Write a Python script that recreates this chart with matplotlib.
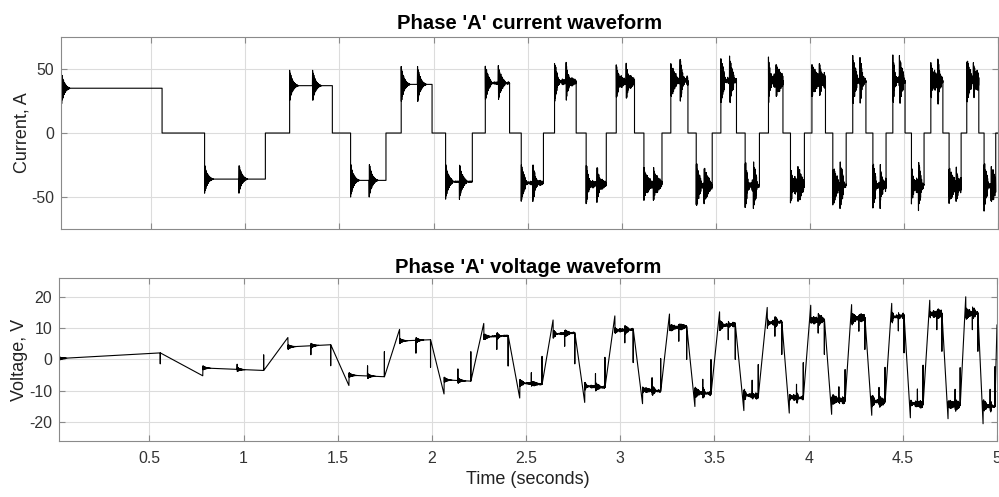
import matplotlib
matplotlib.use('Agg')
import matplotlib.pyplot as plt
import numpy as np

plt.rcParams['font.family'] = ['Liberation Sans', 'DejaVu Sans']
plt.rcParams['axes.unicode_minus'] = False

# phase A conduction intervals (s)
t_on = [0.020, 0.783, 1.235, 1.559, 1.828, 2.064, 2.275, 2.466, 2.643, 2.811,
        2.971, 3.118, 3.261, 3.396, 3.527, 3.656, 3.780, 3.897, 4.011, 4.122,
        4.228, 4.335, 4.441, 4.540, 4.643, 4.740, 4.834, 4.926]
t_mid = [np.nan, 0.966, 1.357, 1.658, 1.915, 2.138, 2.344, 2.528, 2.705, 2.868,
         3.024, 3.169, 3.311, 3.438, 3.573, 3.700, 3.821, 3.936, 4.051, 4.161,
         4.267, 4.374, 4.476, 4.577, 4.680, 4.777, 4.869, 4.963]
t_off = [0.557, 1.106, 1.462, 1.747, 1.992, 2.206, 2.404, 2.584, 2.758, 2.918,
         3.068, 3.214, 3.352, 3.481, 3.610, 3.732, 3.857, 3.971, 4.083, 4.193,
         4.298, 4.405, 4.506, 4.607, 4.707, 4.804, 4.898, 4.988]

# current plateau (A), ringing peak (A), plateau hash (A)
i_level = [35, -36, 37, -37, 38, -38, 39, -39, 40, -40, 40, -40, 41, -41,
           41, -41, 41, -41, 41, -41, 41, -41, 41, -41, 41, -41, 41, -41]
i_ring = [14, 11, 12, 13, 14, 14, 14, 14, 14, 15, 15, 15, 15, 16,
          16, 16, 16, 16, 16, 16, 16, 16, 16, 16, 16, 16, 16, 16]
i_fuzz = [0, 0, 0, 0, 0, 0.5, 1, 1.5, 2, 2, 2.5, 3, 3, 3.5,
          3.5, 4, 4, 4, 4, 4, 4, 4, 4, 4, 4, 4, 4, 4]

# voltage plateau start/end and spike tips (V)
v_start = [0.3, -2.7, 4.0, -5.0, 5.9, -6.5, 7.2, -7.5, 8.1, -8.5, 9.2, -9.7,
           10.1, -10.5, 10.8, -11.3, 11.6, -12.0, 12.4, -12.7, 13.0, -13.2,
           13.5, -14.0, 14.4, -14.3, 14.6, -14.7]
v_end = [2.1, -3.5, 4.7, -5.5, 6.3, -6.9, 7.6, -7.9, 8.5, -8.9, 9.6, -10.1,
         10.5, -10.9, 11.2, -11.7, 12.0, -12.3, 12.8, -13.1, 13.4, -13.6,
         13.9, -14.4, 14.7, -14.6, 14.9, -15.0]
v_on_tip = [2.0, -5.2, 7.0, -8.3, 9.6, -11.0, 11.5, -12.3, 12.6, -13.7, 13.9,
            -14.1, 14.5, -15.0, 15.2, -16.3, 16.6, -17.1, 17.3, -17.5, 17.5,
            -17.8, 17.9, -18.6, 18.9, -18.9, 20.0, -20.5]
v_mid_tip = [np.nan, -1.5, 1.5, -2.0, 2.0, -3.0, 3.2, -4.2, 4.2, -4.5, 5.3,
             -5.8, 5.8, -6.3, 6.3, -6.6, 7.4, -7.9, 8.4, -8.7, 9.0, -8.9,
             9.1, -9.4, 9.5, -9.5, 9.5, -9.5]
v_off_tip = [-1.4, 1.5, -2.0, 2.5, -2.5, 2.5, -2.1, 1.0, -1.4, 0.7, -1.0, 0.3,
             0.0, 0.0, 0.0, -1.6, 1.6, -1.0, 1.6, -3.2, 3.2, -2.5, 2.1, -1.8,
             2.6, -2.6, 2.6, -2.3]
v_ring = [0.6, 0.7, 0.8, 0.8, 0.9, 0.9, 1.0, 1.0, 1.1, 1.1, 1.2, 1.2, 1.2, 1.3,
          1.3, 1.3, 1.4, 1.4, 1.4, 1.4, 1.4, 1.4, 1.4, 1.4, 1.4, 1.4, 1.4, 1.4]
v_fuzz = [0, 0, 0, 0, 0, 0, 0.2, 0.3, 0.3, 0.4, 0.4, 0.5, 0.5, 0.6,
          0.6, 0.7, 0.7, 0.7, 0.8, 0.8, 0.8, 0.8, 0.8, 0.8, 0.8, 0.8, 0.8, 0.8]
t_final = 5.0
v_final = 11.0

# shape of one ringing burst and of the plateau hash
ring_shape = [1.00, -0.95, 0.82, -0.86, 0.72, -0.66, 0.68, -0.58, 0.52, -0.55,
              0.46, -0.42, 0.44, -0.37, 0.33, -0.35, 0.30, -0.27, 0.28, -0.23,
              0.21, -0.22, 0.18, -0.16, 0.17, -0.14, 0.12, -0.13, 0.10, -0.09,
              0.09, -0.08, 0.07, -0.06, 0.06, -0.05, 0.04, -0.04, 0.03, -0.03,
              0.02, -0.02, 0.01, 0.0]
fuzz_shape = [0.4, -0.7, 0.9, -0.2, 0.6, -1.0, 0.3, -0.5, 0.8, -0.4, 0.1, -0.9,
              0.7, -0.3, 0.5, -0.6, 1.0, -0.1, 0.2, -0.8, 0.6, -0.5, 0.3]
dt = 0.0011


def ring(j):
    return ring_shape[j] if 0 <= j < len(ring_shape) else 0.0


ti, ii, tv, vv = [], [], [], []
for k in range(len(t_on)):
    ts = np.arange(t_on[k], t_off[k], dt)
    jm = int(round((t_mid[k] - t_on[k]) / dt)) if not np.isnan(t_mid[k]) else len(ts) + 999
    s = np.sign(i_level[k])
    if k > 0:
        ti.append(t_on[k])
        ii.append(0.0)
    for j, t in enumerate(ts):
        f = fuzz_shape[(j + 7 * k) % len(fuzz_shape)]
        r = ring(j) if j < jm else ring(j - jm)
        ti.append(t)
        ii.append(i_level[k] + s * i_ring[k] * r + i_fuzz[k] * f)
        lv = v_start[k] + (v_end[k] - v_start[k]) * (t - t_on[k]) / (t_off[k] - t_on[k])
        if j == 0:
            v = v_on_tip[k]
        elif j == jm:
            v = v_mid_tip[k]
        elif j < jm:
            v = lv + s * v_ring[k] * r + v_fuzz[k] * f
        else:
            v = lv - s * v_ring[k] * r + v_fuzz[k] * f
        tv.append(t)
        vv.append(v)
    ti += [t_off[k], t_off[k]]
    ii += [i_level[k], 0.0]
    tv += [t_off[k], t_off[k] + 0.0004, t_off[k] + 0.0008]
    vv += [v_end[k], v_off_tip[k], v_end[k]]
ti.append(t_final)
ii.append(0.0)
tv.append(t_final)
vv.append(v_final)

fig = plt.figure(figsize=(9.99, 4.97), dpi=100)
ax1 = fig.add_axes([0.0611, 0.5392, 0.9379, 0.3863])
ax2 = fig.add_axes([0.0591, 0.1127, 0.9389, 0.3280])

ax1.plot(ti, ii, color='black', linewidth=0.8)
ax2.plot(tv, vv, color='black', linewidth=0.8)

xt = [0.5, 1, 1.5, 2, 2.5, 3, 3.5, 4, 4.5, 5]
for ax in (ax1, ax2):
    ax.set_xlim(0.02, 5)
    ax.set_xticks(xt)
    ax.grid(True, color='#dcdcdc', linewidth=0.8)
    ax.set_axisbelow(True)
    for sp in ax.spines.values():
        sp.set_color('#8a8a8a')
        sp.set_linewidth(0.8)
    ax.tick_params(direction='in', length=4, width=0.8, color='#8a8a8a',
                   top=True, right=True, labelsize=11.4, labelcolor='#333333')
    ax.tick_params(axis='y', pad=5)
    ax.tick_params(axis='x', pad=7)

ax1.set_ylim(-75, 75)
ax1.set_yticks([-50, 0, 50])
ax1.set_xticklabels([])
ax1.set_ylabel('Current, A', fontsize=13, color='#222222', labelpad=0.5)
ax1.set_title("Phase 'A' current waveform", fontsize=14.6, fontweight='bold', pad=6)

ax2.set_ylim(-26, 26)
ax2.set_yticks([-20, -10, 0, 10, 20])
ax2.set_xticklabels(['0.5', '1', '1.5', '2', '2.5', '3', '3.5', '4', '4.5', '5'])
ax2.set_ylabel('Voltage, V', fontsize=13, color='#222222', labelpad=0.5)
ax2.set_xlabel('Time (seconds)', fontsize=13, color='#222222', labelpad=4)
ax2.set_title("Phase 'A' voltage waveform", fontsize=14.6, fontweight='bold', pad=3.5)

fig.savefig('out.png', dpi=100)
plt.close(fig)
